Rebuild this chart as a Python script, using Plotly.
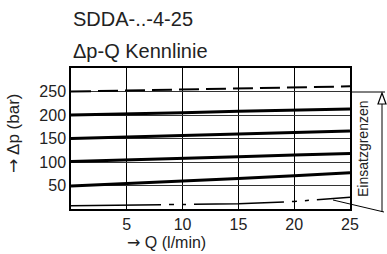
import plotly.graph_objects as go

Q = [0, 5, 10, 15, 20, 25]
curve_200 = [200, 202, 205, 208, 211, 213]
curve_150 = [150, 153, 156, 159, 163, 166]
curve_100 = [101, 104, 107, 111, 115, 118]
curve_50 = [49, 54, 60, 65, 71, 77]
upper_limit = [250, 252, 254, 256, 259, 261]
lower_limit = [7, 8, 9, 11, 16, 25]
x_ticks = [5, 10, 15, 20, 25]
y_ticks = [50, 100, 150, 200, 250]

FONT = "Liberation Sans"
TXT = "#222"
ARROW = '<span style="font-family:DejaVu Sans">→</span>'
fig = go.Figure()
for ys in [curve_200, curve_150, curve_100, curve_50]:
    fig.add_trace(go.Scatter(x=Q, y=ys, mode="lines",
                             line=dict(color="black", width=3), showlegend=False, hoverinfo="skip"))
fig.add_trace(go.Scatter(x=Q, y=upper_limit, mode="lines",
                         line=dict(color="black", width=2, dash="20px,7px"), showlegend=False))
fig.add_trace(go.Scatter(x=Q, y=lower_limit, mode="lines",
                         line=dict(color="black", width=1.5, dash="90px,8px,5px,8px,4px,8px"), showlegend=False))

fig.update_layout(
    width=387, height=254,
    margin=dict(l=71, r=37, t=68, b=45),
    paper_bgcolor="white", plot_bgcolor="white",
    font=dict(family=FONT, color=TXT, size=16),
    xaxis=dict(range=[0, 25], tickvals=x_ticks, showgrid=True, gridcolor="black", gridwidth=1,
               showline=True, linecolor="black", linewidth=1.5, mirror=True, ticks="",
               zeroline=False, tickfont=dict(size=16, family=FONT, color=TXT)),
    yaxis=dict(range=[0, 300], tickvals=y_ticks, showgrid=True, gridcolor="#333", gridwidth=1,
               showline=True, linecolor="black", linewidth=1.5, mirror=True, ticks="",
               zeroline=False, tickfont=dict(size=16, family=FONT, color=TXT)),
    annotations=[
        dict(text="SDDA-..-4-25", xref="paper", yref="paper", x=0.0, y=1.348, xanchor="left",
             yanchor="middle", showarrow=False, font=dict(size=20, family=FONT, color=TXT)),
        dict(text="Δp-Q Kennlinie", xref="paper", yref="paper", x=0.0, y=1.12, xanchor="left",
             yanchor="middle", showarrow=False, font=dict(size=20, family=FONT, color=TXT)),
        dict(text=ARROW + " Q (l/min)", xref="paper", yref="paper", x=(166 - 71) / 279, y=-33 / 141,
             xanchor="center", yanchor="middle", showarrow=False, font=dict(size=16, family=FONT)),
        dict(text=ARROW + " Δp (bar)", xref="paper", yref="paper", x=(13 - 71) / 279, y=(209 - 134) / 141,
             xanchor="center", yanchor="middle", textangle=-90, showarrow=False,
             font=dict(size=17, family=FONT)),
        dict(text="Einsatzgrenzen", xref="paper", yref="paper", x=(363 - 71) / 279, y=(209 - 149) / 141,
             xanchor="center", yanchor="middle", textangle=-90, showarrow=False,
             font=dict(size=14, family=FONT)),
    ],
)

def px(xp):
    return (xp - 71) / 279

def py(yp):
    return (209 - yp) / 141

shapes = [
    dict(type="line", xref="paper", yref="paper", x0=px(350), x1=px(385), y0=py(92), y1=py(92),
         line=dict(color="black", width=1)),
    dict(type="line", xref="paper", yref="paper", x0=px(382), x1=px(382), y0=py(212), y1=py(104),
         line=dict(color="black", width=1)),
    dict(type="path", xref="paper", yref="paper",
         path=f"M {px(378)} {py(104)} L {px(386)} {py(104)} L {px(382)} {py(93)} Z",
         line=dict(color="black", width=1.2), fillcolor="white"),
    dict(type="line", xref="paper", yref="paper", x0=px(333), x1=px(384), y0=py(200), y1=py(212),
         line=dict(color="black", width=1)),
]
fig.update_layout(shapes=shapes)
fig.write_html("out.html", config={"displayModeBar": False},
               post_script="document.body.style.margin='0';document.body.style.overflow='hidden';")
